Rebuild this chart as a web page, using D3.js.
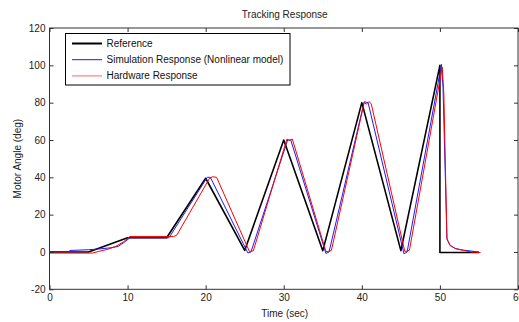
<!DOCTYPE html>
<html>
<head>
<meta charset="utf-8">
<script src="https://cdn.jsdelivr.net/npm/d3@7"></script>
<style>
  body { margin: 0; background: #fff; }
  svg { display: block; font-family: Arial, "Liberation Sans", sans-serif; }
</style>
</head>
<body>
<svg id="chart" width="519" height="322"></svg>
<script>
// tick values
var xTicks = [0, 10, 20, 30, 40, 50, 60];
var yTicks = [-20, 0, 20, 40, 60, 80, 100, 120];

// Reference input
var refTime  = [0, 5, 10, 15, 20, 25, 30, 35, 40, 45, 50, 50, 55];
var refAngle = [0, 0, 7.6, 7.6, 39.5, 0.8, 60, 0.7, 80, 0.7, 100, -0.3, -0.3];

// Simulation response (nonlinear model)
var simTime  = [0, 2.5, 2.6, 5, 6, 8, 8.8, 9.5, 10.3, 15.3, 20.2, 20.6, 25.4, 25.8, 30.5, 30.9,
                35.4, 35.8, 40.3, 40.8, 45.4, 45.8, 50.2, 50.4, 50.9, 51.3, 52, 53, 54, 55];
var simAngle = [0.2, 0.2, 0.8, 1.2, 1.5, 2.3, 3, 5, 7.6, 7.6, 40, 40, -0.5, 0, 60, 60,
                -0.8, 0, 80.5, 80, -1, 0, 100.5, 88, 7, 3.5, 1.8, 1, 0.5, 0];

// Hardware response
var hwTime  = [0, 5.5, 6.3, 7.5, 8.5, 9.5, 10.3, 15.9, 16.3, 20.5, 20.9, 21.4, 25.6, 26.1,
               30.4, 30.7, 31.1, 35.4, 35.8, 36.1, 40.3, 40.6, 40.9, 41.2, 45.5, 45.8, 46.1,
               50.3, 50.5, 50.9, 51.3, 52, 53, 54, 55.2];
var hwAngle = [-0.6, -0.6, 0.3, 1.5, 3, 5.5, 8.3, 8.3, 9, 39.5, 40.3, 40, 0.3, 0.6,
               60.5, 59.8, 60.5, 0.2, 0.4, 0.8, 80, 79.2, 80.6, 79.5, 0.3, 0.4, 1,
               99, 85, 7, 3.5, 1.8, 0.8, 0, -0.3];

var legendLabels = ["Reference", "Simulation Response (Nonlinear model)", "Hardware Response"];
var seriesColors = ["#000000", "#1a1aff", "#ff0000"];
var seriesWidths = [1.6, 1, 1];

var svg = d3.select("#chart");
var plotLeft = 49.5, plotRight = 518, plotTop = 28, plotBottom = 289.3;

var x = d3.scaleLinear().domain([0, 60]).range([plotLeft, plotRight]);
var y = d3.scaleLinear().domain([-20, 120]).range([plotBottom, plotTop]);

function zip(t, v) {
    return t.map(function(d, i) { return [d, v[i]]; });
}
var series = [zip(refTime, refAngle), zip(simTime, simAngle), zip(hwTime, hwAngle)];

var line = d3.line()
    .x(function(d) { return x(d[0]); })
    .y(function(d) { return y(d[1]); });

// draw in order: reference, simulation, hardware on top
svg.append("g").selectAll("path")
    .data(series)
    .enter().append("path")
    .attr("d", line)
    .attr("fill", "none")
    .attr("stroke", function(d, i) { return seriesColors[i]; })
    .attr("stroke-width", function(d, i) { return seriesWidths[i]; })
    .attr("stroke-linejoin", "round");

function styleAxis(g) {
    g.select(".domain").remove();
    g.selectAll(".tick line").attr("stroke", "#333");
    g.selectAll(".tick text").attr("fill", "#222").attr("font-size", 10);
}

// plain hyphen for negatives, like the original
var fmt = function(d) { return String(d); };

svg.append("g")
    .attr("transform", "translate(0," + plotBottom + ")")
    .call(d3.axisBottom(x).tickValues(xTicks).tickFormat(fmt).tickSizeInner(-4).tickSizeOuter(0).tickPadding(5))
    .call(styleAxis);

svg.append("g")
    .attr("transform", "translate(" + plotLeft + ",0)")
    .call(d3.axisLeft(y).tickValues(yTicks).tickFormat(fmt).tickSizeInner(-4).tickSizeOuter(0).tickPadding(4))
    .call(styleAxis);

svg.append("g")
    .attr("transform", "translate(0," + plotTop + ")")
    .call(d3.axisTop(x).tickValues(xTicks).tickSizeInner(-4).tickSizeOuter(0).tickFormat(""))
    .call(styleAxis);

svg.append("g")
    .attr("transform", "translate(" + plotRight + ",0)")
    .call(d3.axisRight(y).tickValues(yTicks).tickSizeInner(-4).tickSizeOuter(0).tickFormat(""))
    .call(styleAxis);

svg.append("rect")
    .attr("x", plotLeft).attr("y", plotTop)
    .attr("width", plotRight - plotLeft).attr("height", plotBottom - plotTop)
    .attr("fill", "none")
    .attr("stroke", "#333");

// titles
svg.append("text")
    .attr("x", (plotLeft + plotRight) / 2 + 1).attr("y", 18)
    .attr("text-anchor", "middle")
    .attr("font-size", 10).attr("fill", "#222")
    .text("Tracking Response");

svg.append("text")
    .attr("x", (plotLeft + plotRight) / 2 + 1).attr("y", 317)
    .attr("text-anchor", "middle")
    .attr("font-size", 10).attr("fill", "#222")
    .text("Time (sec)");

svg.append("text")
    .attr("transform", "translate(21," + ((plotTop + plotBottom) / 2) + ") rotate(-90)")
    .attr("text-anchor", "middle")
    .attr("font-size", 10).attr("fill", "#222")
    .text("Motor Angle (deg)");

// legend
var legend = svg.append("g");
legend.append("rect")
    .attr("x", 65.5).attr("y", 33.5)
    .attr("width", 224.5).attr("height", 51.5)
    .attr("fill", "#fff")
    .attr("stroke", "#000");

var item = legend.selectAll("g.item")
    .data(legendLabels)
    .enter().append("g")
    .attr("class", "item")
    .attr("transform", function(d, i) { return "translate(0," + (43.5 + i * 16.2) + ")"; });

item.append("line")
    .attr("x1", 72).attr("x2", 102)
    .attr("stroke", function(d, i) { return seriesColors[i]; })
    .attr("stroke-width", function(d, i) { return i == 0 ? 2 : 1; })
    .attr("stroke-opacity", function(d, i) { return i == 2 ? 0.6 : 1; });

item.append("text")
    .attr("x", 106.5).attr("dy", "0.35em")
    .attr("font-size", 10).attr("fill", "#111")
    .text(function(d) { return d; });
</script>
</body>
</html>
